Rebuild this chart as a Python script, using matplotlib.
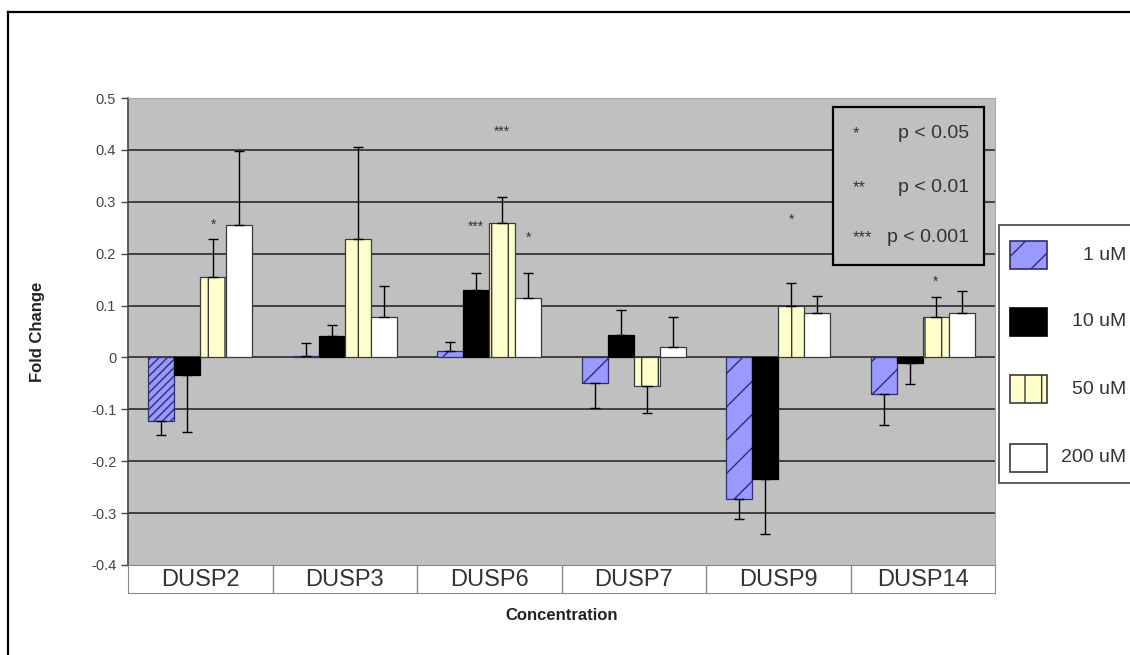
import matplotlib.pyplot as plt
import numpy as np
from matplotlib.patches import Rectangle

plt.rcParams['font.family'] = ['Liberation Sans', 'DejaVu Sans']

genes = ['DUSP2', 'DUSP3', 'DUSP6', 'DUSP7', 'DUSP9', 'DUSP14']
doses = ['1 uM', '10 uM', '50 uM', '200 uM']

# mean fold change per dose, one entry per gene
fc_1 = [-0.123, 0.002, 0.012, -0.050, -0.272, -0.070]
fc_10 = [-0.033, 0.042, 0.130, 0.044, -0.235, -0.010]
fc_50 = [0.155, 0.228, 0.260, -0.055, 0.100, 0.078]
fc_200 = [0.256, 0.078, 0.115, 0.020, 0.085, 0.085]

# error (one-sided, drawn away from zero)
err_1 = [0.027, 0.025, 0.017, 0.047, 0.040, 0.060]
err_10 = [0.110, 0.020, 0.033, 0.048, 0.105, 0.042]
err_50 = [0.073, 0.177, 0.050, 0.052, 0.043, 0.039]
err_200 = [0.141, 0.060, 0.048, 0.058, 0.033, 0.043]

# significance marks: gene index, dose index, height, label
sig_gene = [0, 2, 2, 2, 4, 5]
sig_dose = [2, 1, 2, 3, 2, 2]
sig_y = [0.258, 0.254, 0.437, 0.233, 0.267, 0.148]
sig_txt = ['*', '***', '***', '*', '*', '*']

ytick_vals = [-0.4, -0.3, -0.2, -0.1, 0, 0.1, 0.2, 0.3, 0.4, 0.5]
ytick_labels = ['-0.4', '-0.3', '-0.2', '-0.1', '0', '0.1', '0.2', '0.3', '0.4', '0.5']

fc = [fc_1, fc_10, fc_50, fc_200]
errs = [err_1, err_10, err_50, err_200]
faces = ['#9999FF', '#000000', '#FFFFCC', '#FFFFFF']
edges = ['#2E2E70', '#000000', '#3A3A3A', '#3A3A3A']
hatch_1 = ['////', '/', '/', '/', '/', '/']
hatches = [hatch_1, [None] * 6, ['|'] * 6, [None] * 6]
key_hatch = ['/', None, '|', None]

W, H = 1130, 655
fig = plt.figure(figsize=(W / 100, H / 100), dpi=100)
ax = fig.add_axes([128 / W, 1 - 565 / H, (995 - 128) / W, (565 - 98) / H])
ax.set_facecolor('#C0C0C0')

x = np.arange(len(genes))
w = 0.18
ax.set_xlim(-0.5, len(genes) - 0.5)
ax.set_ylim(-0.4, 0.5)
for yv in ytick_vals[1:-1]:
    ax.axhline(yv, color='#1E1E1E', lw=1.1, zorder=1)

for i in range(4):
    pos = x + (i - 1.5) * w
    vals = np.array(fc[i])
    e = np.array(errs[i])
    bars = ax.bar(pos, vals, w, color=faces[i], edgecolor=edges[i], lw=0.9, zorder=2)
    for b, h in zip(bars, hatches[i]):
        if h:
            b.set_hatch(h)
    lo = np.where(vals < 0, e, 0)
    hi = np.where(vals >= 0, e, 0)
    ax.errorbar(pos, vals, yerr=[lo, hi], fmt='none', ecolor='black',
                elinewidth=1, capsize=3.5, capthick=1, zorder=3)

# stars sit high in the line, so anchor on the baseline and shift down
for g, d, yv, t in zip(sig_gene, sig_dose, sig_y, sig_txt):
    ax.annotate(t, (x[g] + (d - 1.5) * w, yv), xytext=(0, -3.5),
                textcoords='offset points', ha='center', va='baseline',
                fontsize=10, color='#333333', zorder=4)

ax.set_yticks(ytick_vals)
ax.set_yticklabels(ytick_labels, fontsize=10.5, color='#444444')
ax.set_xticks([])
ax.tick_params(axis='y', direction='out', length=5, color='#444444', width=1)
ax.spines['left'].set_color('#444444')
ax.spines['left'].set_linewidth(1.2)
for s in ['top', 'right', 'bottom']:
    ax.spines[s].set_color('#A8A8A8')
ax.set_ylabel('Fold Change', fontsize=12, fontweight='bold', color='#222222', labelpad=33)

# significance key
ax.add_patch(Rectangle((0.813, 0.642), 0.174, 0.339, transform=ax.transAxes,
                       facecolor='#C0C0C0', edgecolor='black', lw=1.6, zorder=5))
key_stars = ['*', '**', '***']
key_p = ['p < 0.05', 'p < 0.01', 'p < 0.001']
key_y = [0.925, 0.809, 0.702]
for s, p, yy in zip(key_stars, key_p, key_y):
    ax.annotate(s, (0.836, yy), xycoords='axes fraction', xytext=(0, -3.5),
                textcoords='offset points', fontsize=12, color='#333333',
                ha='left', va='baseline', zorder=6)
    ax.text(0.970, yy, p, transform=ax.transAxes, fontsize=14, color='#333333',
            ha='right', va='center', zorder=6)

# category strip under the plot
ax2 = fig.add_axes([128 / W, 1 - 593 / H, (995 - 128) / W, 28 / H])
ax2.set_xlim(ax.get_xlim())
ax2.set_ylim(0, 1)
ax2.set_xticks([])
ax2.set_yticks([])
for s in ax2.spines.values():
    s.set_color('#888888')
for b in x[:-1] + 0.5:
    ax2.axvline(b, color='#888888', lw=1)
for xi, g in zip(x, genes):
    ax2.text(xi, 0.45, g, ha='center', va='center', fontsize=17, color='#333333')
ax2.set_xlabel('Concentration', fontsize=12, fontweight='bold', color='#222222', labelpad=11)

# overlay in pixel units for the dose key and the outer frame
ov = fig.add_axes([0, 0, 1, 1])
ov.set_xlim(0, W)
ov.set_ylim(H, 0)
ov.axis('off')
ov.add_patch(Rectangle((999, 225), 160, 258, facecolor='white', edgecolor='#444444',
                       lw=1.2, clip_on=False))
key_rows = [255, 322, 389, 458]
for i, yc in enumerate(key_rows):
    ov.add_patch(Rectangle((1010, yc - 14), 37, 28, facecolor=faces[i], edgecolor=edges[i],
                           hatch=key_hatch[i], lw=1.2))
    ov.text(1126, yc, doses[i], ha='right', va='center', fontsize=14, color='#333333')
ov.plot([8, 8], [12, H], color='black', lw=1.6, clip_on=False)
ov.plot([8, W], [12, 12], color='black', lw=1.6, clip_on=False)

plt.savefig('out.png', dpi=100)
